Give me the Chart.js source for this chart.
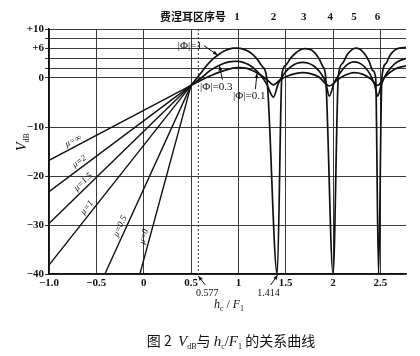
<!DOCTYPE html>
<html><head><meta charset="utf-8">
<script src="https://cdn.jsdelivr.net/npm/chart.js@4"></script>
<style>html,body{margin:0;padding:0;background:#fff}canvas{display:block}</style>
</head><body>
<canvas id="c" width="420" height="356"></canvas>
<script>
// ---- data ----
const xTickValues = [-1, -0.5, 0, 0.5, 1, 1.5, 2, 2.5];
const xTickLabels = ['\u22121.0', '\u22120.5', '0', '0.5', '1', '1.5', '2', '2.5'];
const yGridValues = [-40, -30, -20, -10, 0, 2, 4, 6, 8, 10];
const yTickLabels = {'-40': '\u221240', '-30': '\u221230', '-20': '\u221220', '-10': '\u221210', '0': '0', '6': '+6', '10': '+10'};
const fresnelZones = ['1', '2', '3', '4', '5', '6'];
const fresnelZoneX = [0.985, 1.37, 1.69, 1.97, 2.22, 2.47];
const muLabels = ['\u03bc=\u221e', '\u03bc=2', '\u03bc=1.5', '\u03bc=1', '\u03bc=0.5', '\u03bc=0'];
const rayStartX = [-1, -1, -1, -1, -0.41, -0.04];
const rayStartY = [-16.8, -23.2, -29.7, -38.2, -40, -40];
const focusPoint = [0.5, -1.5];
const muLabelT = [0.19, 0.24, 0.27, 0.30, 0.24, 0.19];
const markedX = [0.577, 1.414];

const phi1X = [0.50,0.55,0.60,0.65,0.70,0.75,0.80,0.85,0.90,0.95,1.00,1.05,1.10,1.15,1.20,1.25,1.30,1.41,1.46,1.50,1.55,1.60,1.65,1.70,1.75,1.80,1.85,1.89,1.92,2.00,2.056,2.10,2.15,2.20,2.24,2.28,2.33,2.38,2.42,2.45,2.48,2.515,2.56,2.60,2.65,2.70,2.77];
const phi1Y = [-1.5,-0.3,0.9,2.2,3.3,4.2,4.9,5.5,5.9,6.1,6.1,5.9,5.5,4.8,3.8,2.4,0.0,-40,0.8,2.6,4.0,5.0,5.7,6.0,5.9,5.3,4.0,2.4,0.5,-40,0.5,3.0,4.8,5.8,6.1,5.9,5.0,3.4,1.5,0,-40,0,3.0,4.6,5.7,6.1,6.2];
const phi03X = [0.50,0.55,0.60,0.65,0.70,0.75,0.80,0.85,0.90,0.95,1.00,1.05,1.10,1.15,1.20,1.25,1.30,1.37,1.42,1.47,1.52,1.57,1.62,1.68,1.74,1.80,1.86,1.92,1.96,2.01,2.07,2.12,2.17,2.22,2.27,2.33,2.39,2.44,2.47,2.51,2.56,2.62,2.68,2.77];
const phi03Y = [-1.5,-0.8,-0.1,0.7,1.5,2.1,2.6,3.0,3.3,3.4,3.4,3.2,2.8,2.2,1.3,0.2,-1.3,-3.9,-1.2,0.5,1.7,2.5,3.0,3.2,3.0,2.4,1.2,-0.8,-3.7,-1.0,0.9,2.2,3.0,3.3,3.1,2.3,0.8,-1.5,-3.7,-1.3,0.8,2.3,3.3,4.0];
const phi01X = [0.50,0.55,0.60,0.70,0.80,0.90,1.00,1.10,1.20,1.30,1.37,1.44,1.52,1.60,1.68,1.76,1.85,1.96,2.05,2.13,2.22,2.31,2.40,2.47,2.55,2.65,2.77];
const phi01Y = [-1.5,-1.0,-0.5,0.4,1.2,1.8,2.1,1.9,1.0,-0.3,-1.4,-0.4,0.4,0.9,1.1,0.9,0.2,-1.6,-0.3,0.6,1.1,0.8,-0.2,-1.5,0.3,1.8,2.5];

const phiLabels = ['|\u03a6|=1', '|\u03a6|=0.3', '|\u03a6|=0.1'];
const phiLabelPos = [[0.36, 6.6], [0.595, -1.8], [0.943, -3.7]];
const phiArrowTip = [[0.78, 4.7], [0.80, 2.5], [1.196, 0.9]];

// ---- build datasets ----
const pts = (xs, ys) => xs.map((x, i) => ({x: x, y: ys[i]}));
const datasets = [];
for (let i = 0; i < rayStartX.length; i++) {
  datasets.push({
    data: [{x: rayStartX[i], y: rayStartY[i]}, {x: focusPoint[0], y: focusPoint[1]}],
    borderColor: '#111', borderWidth: 1.4, pointRadius: 0, tension: 0
  });
}
[[phi1X, phi1Y], [phi03X, phi03Y], [phi01X, phi01Y]].forEach(([xs, ys]) => {
  datasets.push({
    data: pts(xs, ys), borderColor: '#111', borderWidth: 1.7, pointRadius: 0,
    cubicInterpolationMode: 'monotone'
  });
});

const SERIF = '"Liberation Serif", "DejaVu Serif", serif';
const CJK = '"Noto Sans CJK SC", sans-serif';

function arrow(ctx, x0, y0, x1, y1) {
  ctx.beginPath(); ctx.moveTo(x0, y0); ctx.lineTo(x1, y1); ctx.stroke();
  const a = Math.atan2(y1 - y0, x1 - x0), L = 5;
  ctx.beginPath();
  ctx.moveTo(x1, y1);
  ctx.lineTo(x1 - L * Math.cos(a - 0.4), y1 - L * Math.sin(a - 0.4));
  ctx.lineTo(x1 - L * Math.cos(a + 0.4), y1 - L * Math.sin(a + 0.4));
  ctx.closePath(); ctx.fill();
}

function drawRich(ctx, segs, cx, baseY) {
  // segs: [text, font, dy]
  let w = 0;
  segs.forEach(s => { ctx.font = s[1]; w += ctx.measureText(s[0]).width; });
  let x = cx - w / 2;
  ctx.textAlign = 'left'; ctx.textBaseline = 'alphabetic';
  segs.forEach(s => { ctx.font = s[1]; ctx.fillText(s[0], x, baseY + (s[2] || 0)); x += ctx.measureText(s[0]).width; });
}

const annot = {
  id: 'annot',
  beforeDatasetsDraw(chart) {
    const {ctx, chartArea: ca, scales: {x}} = chart;
    ctx.save();
    ctx.strokeStyle = '#333'; ctx.lineWidth = 1; ctx.setLineDash([2, 2]);
    const px = x.getPixelForValue(markedX[0]);
    ctx.beginPath(); ctx.moveTo(px, ca.top); ctx.lineTo(px, ca.bottom); ctx.stroke();
    ctx.restore();
  },
  afterDraw(chart) {
    const {ctx, chartArea: ca, scales: {x, y}} = chart;
    ctx.save();
    ctx.fillStyle = '#111'; ctx.strokeStyle = '#111'; ctx.lineWidth = 1;

    // header
    ctx.font = 'bold 11px ' + CJK; ctx.textAlign = 'center'; ctx.textBaseline = 'middle';
    ctx.fillText('费涅耳区序号', 193, 17);
    ctx.font = 'bold 11px ' + SERIF;
    fresnelZones.forEach((t, i) => ctx.fillText(t, x.getPixelForValue(fresnelZoneX[i]), 17));

    // mu labels along rays
    ctx.font = 'italic 9px ' + SERIF;
    for (let i = 0; i < muLabels.length; i++) {
      const x0 = x.getPixelForValue(rayStartX[i]), y0 = y.getPixelForValue(rayStartY[i]);
      const x1 = x.getPixelForValue(focusPoint[0]), y1 = y.getPixelForValue(focusPoint[1]);
      const dx = x1 - x0, dy = y1 - y0, len = Math.hypot(dx, dy);
      const t = muLabelT[i];
      const px = x0 + t * dx + (dy / len) * 6, py = y0 + t * dy + (-dx / len) * 6;
      ctx.save(); ctx.translate(px, py); ctx.rotate(Math.atan2(dy, dx));
      ctx.textAlign = 'center'; ctx.textBaseline = 'middle';
      ctx.fillText(muLabels[i], 0, 0); ctx.restore();
    }

    // phi labels
    ctx.font = '11px ' + SERIF; ctx.textAlign = 'left'; ctx.textBaseline = 'middle';
    phiLabels.forEach((t, i) => {
      const lx = x.getPixelForValue(phiLabelPos[i][0]), ly = y.getPixelForValue(phiLabelPos[i][1]);
      ctx.fillText(t, lx, ly);
      const w = ctx.measureText(t).width;
      const tx = x.getPixelForValue(phiArrowTip[i][0]), ty = y.getPixelForValue(phiArrowTip[i][1]);
      let sx, sy;
      if (i === 0) { sx = lx + w + 2; sy = ly; } else { sx = lx + w - 10; sy = ly - 7; }
      arrow(ctx, sx, sy, tx, ty);
    });

    // marked values below axis
    ctx.font = '10px ' + SERIF; ctx.textAlign = 'center'; ctx.textBaseline = 'middle';
    const p1 = x.getPixelForValue(markedX[0]);
    arrow(ctx, p1 + 7, ca.bottom + 11, p1, ca.bottom + 2);
    ctx.fillText('0.577', p1 + 9, ca.bottom + 19);
    const p2 = x.getPixelForValue(markedX[1]);
    arrow(ctx, p2 - 7, ca.bottom + 11, p2, ca.bottom + 1);
    ctx.fillText('1.414', p2 - 9, ca.bottom + 19);

    // x-axis title
    drawRich(ctx, [['h', 'italic 12px ' + SERIF, 0], ['c', '8px ' + SERIF, 3], [' / ', '12px ' + SERIF, 0], ['F', 'italic 12px ' + SERIF, 0], ['1', '8px ' + SERIF, 3]], 229, 308);

    // y-axis title (rotated)
    ctx.save(); ctx.translate(26, 142); ctx.rotate(-Math.PI / 2);
    drawRich(ctx, [['V', 'italic 14px ' + SERIF, 0], ['dB', '8px ' + SERIF, 3]], 0, 0);
    ctx.restore();

    // caption
    drawRich(ctx, [
      ['图 2  ', '14px ' + CJK, 0], ['V', 'italic 15px ' + SERIF, 0], ['dB', '8px ' + SERIF, 3],
      ['与 ', '14px ' + CJK, 0], ['h', 'italic 15px ' + SERIF, 0], ['c', '8px ' + SERIF, 3],
      ['/', '15px ' + SERIF, 0], ['F', 'italic 15px ' + SERIF, 0], ['1', '8px ' + SERIF, 3],
      [' 的关系曲线', '14px ' + CJK, 0]
    ], 231, 346);
    ctx.restore();
  }
};

new Chart(document.getElementById('c'), {
  type: 'line',
  data: {datasets: datasets},
  options: {
    responsive: false, animation: false, parsing: true,
    layout: {padding: {top: 29, right: 14, left: 0, bottom: 0}},
    plugins: {legend: {display: false}, tooltip: {enabled: false}, title: {display: false}},
    elements: {line: {fill: false}},
    scales: {
      x: {
        type: 'linear', min: -1, max: 2.77,
        afterBuildTicks: s => { s.ticks = xTickValues.map(v => ({value: v})); },
        afterFit: s => { s.height = 82; },
        ticks: {callback: v => { const i = xTickValues.indexOf(v); return i >= 0 ? xTickLabels[i] : ''; },
                font: {family: SERIF, size: 11, weight: 'bold'}, color: '#111', padding: 3, maxRotation: 0, autoSkip: false},
        grid: {color: '#3a3a3a', lineWidth: 1, drawTicks: false},
        border: {color: '#111', width: 1.5}
      },
      y: {
        type: 'linear', min: -40, max: 10,
        afterBuildTicks: s => { s.ticks = yGridValues.map(v => ({value: v})); },
        afterFit: s => { s.width = 49; },
        ticks: {callback: v => (yTickLabels[String(v)] !== undefined ? yTickLabels[String(v)] : ''),
                font: {family: SERIF, size: 11, weight: 'bold'}, color: '#111', padding: 1, autoSkip: false},
        grid: {color: '#3a3a3a', lineWidth: 1, tickLength: 4},
        border: {color: '#111', width: 1.5}
      }
    }
  },
  plugins: [annot]
});
</script>
</body></html>
